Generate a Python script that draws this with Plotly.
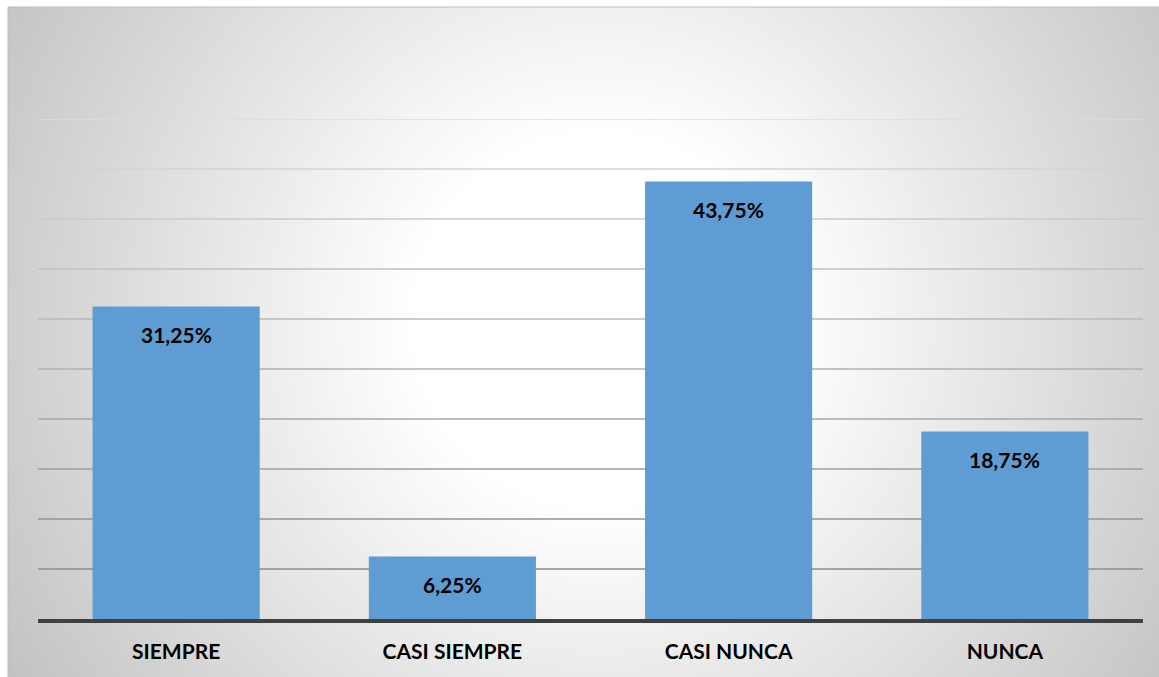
import base64
import struct
import zlib

import numpy as np
import plotly.graph_objects as go

# Survey answer categories and their shares (%)
categories = ["SIEMPRE", "CASI SIEMPRE", "CASI NUNCA", "NUNCA"]
shares = [31.25, 6.25, 43.75, 18.75]
share_labels = ["31,25%", "6,25%", "43,75%", "18,75%"]
grid_values = [5, 10, 15, 20, 25, 30, 35, 40, 45, 50]

W, H = 1159, 677
L, R, T, B = 38, 16, 119, 58
PLOT_W, PLOT_H = W - L - R, H - T - B


def radial_png(w, h, cx, cy):
    """Grey radial gradient (white centre fading to grey) encoded as PNG."""
    yy, xx = np.mgrid[0:h, 0:w].astype(float)
    dist = np.hypot(xx - cx, yy - cy)
    val = 255.0 - 0.12 * np.clip(dist - 190.0, 0, None)
    img = np.clip(val, 0, 255).astype(np.uint8)
    raw = b"".join(b"\x00" + img[r].tobytes() for r in range(h))

    def chunk(tag, data):
        c = struct.pack(">I", len(data)) + tag + data
        return c + struct.pack(">I", zlib.crc32(tag + data) & 0xFFFFFFFF)

    png = b"\x89PNG\r\n\x1a\n"
    png += chunk(b"IHDR", struct.pack(">IIBBBBB", w, h, 8, 0, 0, 0, 0))
    png += chunk(b"IDAT", zlib.compress(raw, 9))
    png += chunk(b"IEND", b"")
    return "data:image/png;base64," + base64.b64encode(png).decode()


bg_x0, bg_y0 = 8, 7
bg_w, bg_h = W - bg_x0, H - bg_y0
bg_src = radial_png(bg_w, bg_h, 600 - bg_x0, 320 - bg_y0)

fig = go.Figure(
    go.Bar(
        x=categories,
        y=shares,
        marker=dict(color="#5E9CD3", line=dict(width=0)),
        hoverinfo="skip",
    )
)

# Value labels sit inside the top of each bar
for cat, val, lab in zip(categories, shares, share_labels):
    fig.add_annotation(
        x=cat, y=val, text=lab, showarrow=False,
        yanchor="middle", yshift=-28,
        font=dict(family="Lato", size=21, color="#000000", weight="bold"),
    )

# Horizontal gridlines, darker toward the baseline
dark, light = 0x8C, 0xDC
n = len(grid_values)
for i, g in enumerate(grid_values):
    c = int(round(dark + (light - dark) * i / (n - 1)))
    fig.add_shape(
        type="line", xref="paper", yref="y", x0=0, x1=1, y0=g, y1=g,
        line=dict(color=f"rgb({c},{c},{c})", width=1.5), layer="below",
    )

# Thin frame along the top and left of the chart area
fig.add_shape(
    type="rect", xref="paper", yref="paper",
    x0=(bg_x0 - L) / PLOT_W, x1=(W + 4 - L) / PLOT_W,
    y0=-(B + 4) / PLOT_H, y1=(H - B - bg_y0) / PLOT_H,
    line=dict(color="#BDBDBD", width=1), fillcolor="rgba(0,0,0,0)",
    layer="below",
)

fig.add_layout_image(
    source=bg_src, xref="paper", yref="paper",
    x=(bg_x0 - L) / PLOT_W, y=(H - B - bg_y0) / PLOT_H,
    sizex=bg_w / PLOT_W, sizey=bg_h / PLOT_H,
    xanchor="left", yanchor="top", sizing="stretch", layer="below",
)

fig.update_layout(
    width=W, height=H, autosize=False,
    margin=dict(l=L, r=R, t=T, b=B, pad=0),
    paper_bgcolor="#FFFFFF", plot_bgcolor="rgba(0,0,0,0)",
    bargap=0.395, showlegend=False,
    xaxis=dict(
        showline=True, linecolor="#404040", linewidth=4,
        showgrid=False, ticks="", ticklabelstandoff=11, automargin=False,
        tickfont=dict(family="Lato", size=21, color="#000000", weight="bold"),
        fixedrange=True,
    ),
    yaxis=dict(
        range=[0, 50], showgrid=False, zeroline=False, automargin=False,
        showticklabels=False, ticks="", fixedrange=True,
    ),
)

fig.write_html("out.html", config=dict(displayModeBar=False))
